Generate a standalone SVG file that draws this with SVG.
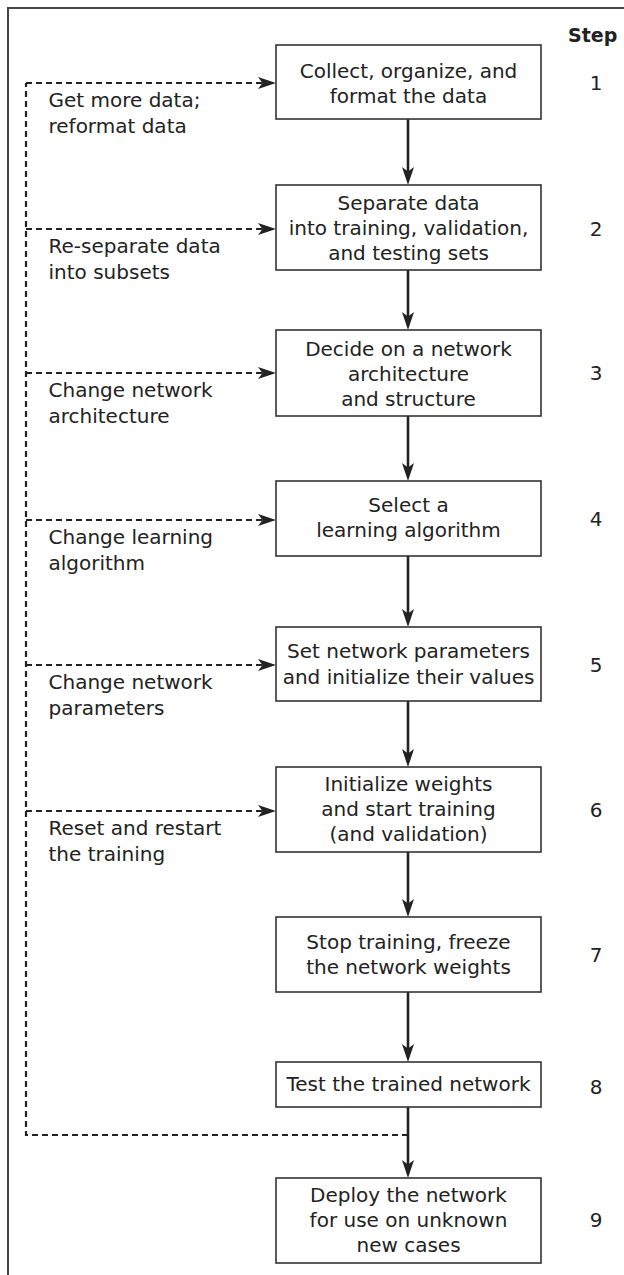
<svg xmlns="http://www.w3.org/2000/svg" width="624" height="1275" viewBox="0 0 624 1275">
<style>
.frame{fill:none;stroke:#444;stroke-width:2}
.box{fill:#fff;stroke:#333;stroke-width:1.6}
.t{font-family:"DejaVu Sans",sans-serif;font-size:20px;fill:#222}
.c{text-anchor:middle}
.step{font-family:"DejaVu Sans",sans-serif;font-size:19px;font-weight:bold;fill:#222}
.solid{fill:none;stroke:#222;stroke-width:2.6}
.dash{fill:none;stroke:#222;stroke-width:2.2;stroke-dasharray:6 4}
</style>
<defs>
<marker id="ah" markerUnits="userSpaceOnUse" markerWidth="19" markerHeight="13" refX="9" refY="6" orient="auto">
<path d="M0,0 L18,6 L0,12 L4.5,6 Z" fill="#222"/>
</marker>
</defs>
<path class="frame" d="M8,1276 V8 H625"/>
<text class="step" x="568" y="42">Step</text>
<g id="connectors">
<line class="solid" x1="408" y1="119" x2="408" y2="176" marker-end="url(#ah)"/>
<line class="solid" x1="408" y1="270" x2="408" y2="321" marker-end="url(#ah)"/>
<line class="solid" x1="408" y1="416" x2="408" y2="472" marker-end="url(#ah)"/>
<line class="solid" x1="408" y1="556" x2="408" y2="618" marker-end="url(#ah)"/>
<line class="solid" x1="408" y1="701" x2="408" y2="758" marker-end="url(#ah)"/>
<line class="solid" x1="408" y1="852" x2="408" y2="908" marker-end="url(#ah)"/>
<line class="solid" x1="408" y1="992" x2="408" y2="1053" marker-end="url(#ah)"/>
<line class="solid" x1="408" y1="1107" x2="408" y2="1169" marker-end="url(#ah)"/>
<path class="dash" d="M408,1135 H26 V83"/>
<line class="dash" x1="26" y1="83" x2="267" y2="83" marker-end="url(#ah)"/>
<line class="dash" x1="26" y1="229" x2="267" y2="229" marker-end="url(#ah)"/>
<line class="dash" x1="26" y1="373" x2="267" y2="373" marker-end="url(#ah)"/>
<line class="dash" x1="26" y1="520" x2="267" y2="520" marker-end="url(#ah)"/>
<line class="dash" x1="26" y1="665" x2="267" y2="665" marker-end="url(#ah)"/>
<line class="dash" x1="26" y1="811" x2="267" y2="811" marker-end="url(#ah)"/>
<text class="t" x="48.5" y="107">Get more data;</text>
<text class="t" x="48.5" y="133">reformat data</text>
<text class="t" x="48.5" y="253">Re-separate data</text>
<text class="t" x="48.5" y="279">into subsets</text>
<text class="t" x="48.5" y="397">Change network</text>
<text class="t" x="48.5" y="423">architecture</text>
<text class="t" x="48.5" y="544">Change learning</text>
<text class="t" x="48.5" y="570">algorithm</text>
<text class="t" x="48.5" y="689">Change network</text>
<text class="t" x="48.5" y="715">parameters</text>
<text class="t" x="48.5" y="835">Reset and restart</text>
<text class="t" x="48.5" y="861">the training</text>
</g>
<g id="step1">
<rect class="box" x="276" y="45" width="265" height="74"/>
<text class="t c" x="408.5" y="78">Collect, organize, and</text>
<text class="t c" x="408.5" y="103">format the data</text>
<text class="t c" x="596" y="90">1</text>
</g>
<g id="step2">
<rect class="box" x="276" y="185" width="265" height="85"/>
<text class="t c" x="408.5" y="210">Separate data</text>
<text class="t c" x="408.5" y="235">into training, validation,</text>
<text class="t c" x="408.5" y="260">and testing sets</text>
<text class="t c" x="596" y="236">2</text>
</g>
<g id="step3">
<rect class="box" x="276" y="330" width="265" height="86"/>
<text class="t c" x="408.5" y="356">Decide on a network</text>
<text class="t c" x="408.5" y="381">architecture</text>
<text class="t c" x="408.5" y="406">and structure</text>
<text class="t c" x="596" y="380">3</text>
</g>
<g id="step4">
<rect class="box" x="276" y="481" width="265" height="75"/>
<text class="t c" x="408.5" y="512">Select a</text>
<text class="t c" x="408.5" y="537">learning algorithm</text>
<text class="t c" x="596" y="526">4</text>
</g>
<g id="step5">
<rect class="box" x="276" y="627" width="265" height="74"/>
<text class="t c" x="408.5" y="658">Set network parameters</text>
<text class="t c" x="408.5" y="684">and initialize their values</text>
<text class="t c" x="596" y="672">5</text>
</g>
<g id="step6">
<rect class="box" x="276" y="767" width="265" height="85"/>
<text class="t c" x="408.5" y="791">Initialize weights</text>
<text class="t c" x="408.5" y="816">and start training</text>
<text class="t c" x="408.5" y="841">(and validation)</text>
<text class="t c" x="596" y="817">6</text>
</g>
<g id="step7">
<rect class="box" x="276" y="917" width="265" height="75"/>
<text class="t c" x="408.5" y="949">Stop training, freeze</text>
<text class="t c" x="408.5" y="974">the network weights</text>
<text class="t c" x="596" y="962">7</text>
</g>
<g id="step8">
<rect class="box" x="276" y="1062" width="265" height="45"/>
<text class="t c" x="408.5" y="1091">Test the trained network</text>
<text class="t c" x="596" y="1094">8</text>
</g>
<g id="step9">
<rect class="box" x="276" y="1178" width="265" height="85"/>
<text class="t c" x="408.5" y="1202">Deploy the network</text>
<text class="t c" x="408.5" y="1227">for use on unknown</text>
<text class="t c" x="408.5" y="1252">new cases</text>
<text class="t c" x="596" y="1227">9</text>
</g>
</svg>
